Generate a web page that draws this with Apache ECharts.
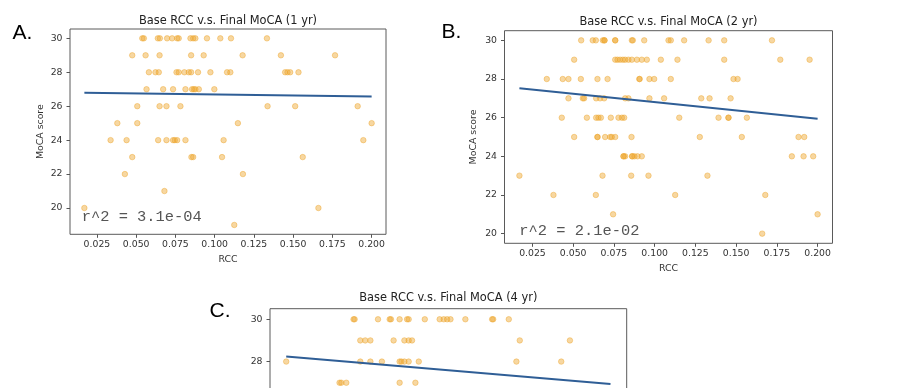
<!DOCTYPE html>
<html><head><meta charset="utf-8">
<script src="https://cdn.jsdelivr.net/npm/echarts@6/dist/echarts.min.js"></script>
<style>html,body{margin:0;padding:0;background:#fff}#c{width:900px;height:388px}</style>
</head><body><div id="c"></div>
<script>
// ---- data ----
const mocaLevels = [30, 29, 28, 27, 26, 25, 24, 23, 22, 21, 20, 19];
// RCC values of the points on each MoCA level (same order as mocaLevels)
const rccA = [
  [0.0539, 0.0549, 0.0638, 0.0651, 0.0697, 0.0729, 0.0761, 0.0771, 0.0846, 0.0863, 0.0877, 0.0951, 0.1036, 0.1104, 0.1333],
  [0.0475, 0.0560, 0.0649, 0.0850, 0.0930, 0.1178, 0.1422, 0.1767],
  [0.0581, 0.0623, 0.0644, 0.0757, 0.0771, 0.0807, 0.0835, 0.0850, 0.0894, 0.0973, 0.1079, 0.1100, 0.1449, 0.1464, 0.1481, 0.1534],
  [0.0566, 0.0672, 0.0735, 0.0814, 0.0856, 0.0867, 0.0877, 0.0899, 0.0998],
  [0.0507, 0.0649, 0.0693, 0.0782, 0.1337, 0.1513, 0.1911],
  [0.0380, 0.0507, 0.1148, 0.2000],
  [0.0337, 0.0439, 0.0640, 0.0693, 0.0735, 0.0746, 0.0761, 0.0814, 0.1057, 0.1947],
  [0.0475, 0.0852, 0.0863, 0.1047, 0.1561],
  [0.0428, 0.1180],
  [0.0680],
  [0.0170, 0.1661],
  [0.1125]
];
const rccB = [
  [0.0549, 0.0620, 0.0639, 0.0682, 0.0692, 0.0692, 0.0758, 0.0758, 0.0860, 0.0866, 0.0936, 0.1085, 0.1099, 0.1181, 0.1331, 0.1427, 0.1720],
  [0.0506, 0.0758, 0.0772, 0.0788, 0.0805, 0.0819, 0.0839, 0.0860, 0.0891, 0.0921, 0.0952, 0.1038, 0.1140, 0.1427, 0.1771, 0.1951],
  [0.0338, 0.0436, 0.0471, 0.0547, 0.0649, 0.0711, 0.0907, 0.0907, 0.0968, 0.0997, 0.1099, 0.1484, 0.1509],
  [0.0471, 0.0559, 0.0567, 0.0641, 0.0665, 0.0690, 0.0819, 0.0839, 0.0968, 0.1058, 0.1286, 0.1337, 0.1466],
  [0.0430, 0.0584, 0.0641, 0.0655, 0.0670, 0.0731, 0.0778, 0.0799, 0.0813, 0.1151, 0.1392, 0.1453, 0.1453, 0.1566],
  [0.0506, 0.0649, 0.0649, 0.0696, 0.0727, 0.0737, 0.0758, 0.0858, 0.1277, 0.1535, 0.1883, 0.1918],
  [0.0809, 0.0809, 0.0819, 0.0862, 0.0862, 0.0876, 0.0895, 0.0921, 0.1842, 0.1914, 0.1973],
  [0.0170, 0.0680, 0.0856, 0.0962, 0.1324],
  [0.0379, 0.0639, 0.1126, 0.1679],
  [0.0745, 0.2000],
  [0.1660],
  []
];
const rccC = [
  [0.0550, 0.0556, 0.0688, 0.0754, 0.0761, 0.0810, 0.0852, 0.0861, 0.0952, 0.1036, 0.1059, 0.1078, 0.1097, 0.1181, 0.1332, 0.1338, 0.1426],
  [0.0588, 0.0616, 0.0645, 0.0776, 0.0837, 0.0861, 0.0880, 0.1488, 0.1771],
  [0.0170, 0.0588, 0.0645, 0.0710, 0.0810, 0.0820, 0.0837, 0.0861, 0.0918, 0.1469, 0.1722],
  [0.0471, 0.0481, 0.0509, 0.0810, 0.0899]
];
const rccRange = [0.017, 0.200];
const mocaRangeA = [19, 30];
const mocaRangeB = [20, 30];
const mocaRangeC = [20, 30];
const fitA = [26.80, 26.57];
const fitB = [27.52, 25.94];
const fitC = [28.24, 26.94];
const xTicks = [0.025, 0.050, 0.075, 0.100, 0.125, 0.150, 0.175, 0.200];
const yTicks = [20, 22, 24, 26, 28, 30];
const titles = ['Base RCC v.s. Final MoCA (1 yr)', 'Base RCC v.s. Final MoCA (2 yr)', 'Base RCC v.s. Final MoCA (4 yr)'];
const r2Labels = ['r^2 = 3.1e-04', 'r^2 = 2.1e-02'];
const panelLetters = ['A.', 'B.', 'C.'];
const xName = 'RCC', yName = 'MoCA score';

// ---- build ----
function pts(rows) {
  const out = [];
  rows.forEach((row, i) => row.forEach(x => out.push([x, mocaLevels[i]])));
  return out;
}
function pad(r) { const p = (r[1] - r[0]) * 0.05; return [r[0] - p, r[1] + p]; }
const xr = pad(rccRange);
const panels = [
  {rows: rccA, yr: pad(mocaRangeA), fit: fitA, grid: {left: 70, top: 29, width: 316, height: 205.3}},
  {rows: rccB, yr: pad(mocaRangeB), fit: fitB, grid: {left: 504.5, top: 30.7, width: 328, height: 212.6}},
  {rows: rccC, yr: pad(mocaRangeC), fit: fitC, grid: {left: 270, top: 308.7, width: 356.7, height: 232.7}}
];
const FONT = '"DejaVu Sans", sans-serif';
const ptColor = 'rgba(236,163,40,0.55)';
const option = {
  animation: false,
  grid: panels.map(p => Object.assign({show: true, borderColor: '#5a5a5a', borderWidth: 1, containLabel: false, outerBoundsMode: 'none'}, p.grid)),
  xAxis: panels.map((p, i) => ({
    type: 'value', gridIndex: i, min: xr[0], max: xr[1],
    name: xName, nameLocation: 'middle', nameGap: 21,
    nameTextStyle: {fontFamily: FONT, fontSize: 9.35, color: '#333'},
    axisLine: {show: false},
    axisTick: {show: true, length: 3.5, customValues: xTicks, lineStyle: {color: '#555'}},
    axisLabel: {customValues: xTicks, formatter: v => v.toFixed(3), fontFamily: FONT, fontSize: 9.3, color: '#333', margin: 6},
    splitLine: {show: false}
  })),
  yAxis: panels.map((p, i) => ({
    type: 'value', gridIndex: i, min: p.yr[0], max: p.yr[1],
    name: yName, nameLocation: 'middle', nameGap: i === 0 ? 25 : 26.5,
    nameTextStyle: {fontFamily: FONT, fontSize: 9.35, color: '#333'},
    axisLine: {show: false},
    axisTick: {show: true, length: 3.5, customValues: yTicks, lineStyle: {color: '#555'}},
    axisLabel: {customValues: yTicks, fontFamily: FONT, fontSize: 9.3, color: '#333', margin: 7.5},
    splitLine: {show: false}
  })),
  series: [].concat(...panels.map((p, i) => [
    {type: 'scatter', xAxisIndex: i, yAxisIndex: i, data: pts(p.rows), symbol: 'circle', symbolSize: 5.5,
     itemStyle: {color: ptColor, borderColor: ptColor, borderWidth: 1}, silent: true},
    {type: 'line', xAxisIndex: i, yAxisIndex: i, data: [[rccRange[0], p.fit[0]], [rccRange[1], p.fit[1]]],
     symbol: 'none', lineStyle: {color: '#2f5e96', width: 2}, silent: true}
  ])),
  graphic: [
    {type: 'text', x: 228, y: 20.7, style: {text: titles[0], fontFamily: FONT, fontSize: 11.4, fill: '#222', align: 'center', verticalAlign: 'middle'}},
    {type: 'text', x: 668.5, y: 21.7, style: {text: titles[1], fontFamily: FONT, fontSize: 11.4, fill: '#222', align: 'center', verticalAlign: 'middle'}},
    {type: 'text', x: 448.3, y: 298.3, style: {text: titles[2], fontFamily: FONT, fontSize: 11.4, fill: '#222', align: 'center', verticalAlign: 'middle'}},
    {type: 'text', x: 81.7, y: 217, style: {text: r2Labels[0], fontFamily: '"Liberation Mono", "Courier New", monospace', fontSize: 15.4, fill: '#555', align: 'left', verticalAlign: 'middle'}},
    {type: 'text', x: 519.3, y: 230.7, style: {text: r2Labels[1], fontFamily: '"Liberation Mono", "Courier New", monospace', fontSize: 15.4, fill: '#555', align: 'left', verticalAlign: 'middle'}},
    {type: 'text', x: 12.5, y: 33.5, style: {text: panelLetters[0], fontFamily: '"Liberation Sans", Arial, sans-serif', fontSize: 21, fill: '#000', align: 'left', verticalAlign: 'middle'}},
    {type: 'text', x: 441.5, y: 32.5, style: {text: panelLetters[1], fontFamily: '"Liberation Sans", Arial, sans-serif', fontSize: 21, fill: '#000', align: 'left', verticalAlign: 'middle'}},
    {type: 'text', x: 209.5, y: 311, style: {text: panelLetters[2], fontFamily: '"Liberation Sans", Arial, sans-serif', fontSize: 21, fill: '#000', align: 'left', verticalAlign: 'middle'}}
  ]
};
const chart = echarts.init(document.getElementById('c'), null, {renderer: 'canvas'});
chart.setOption(option);
</script>
</body></html>
